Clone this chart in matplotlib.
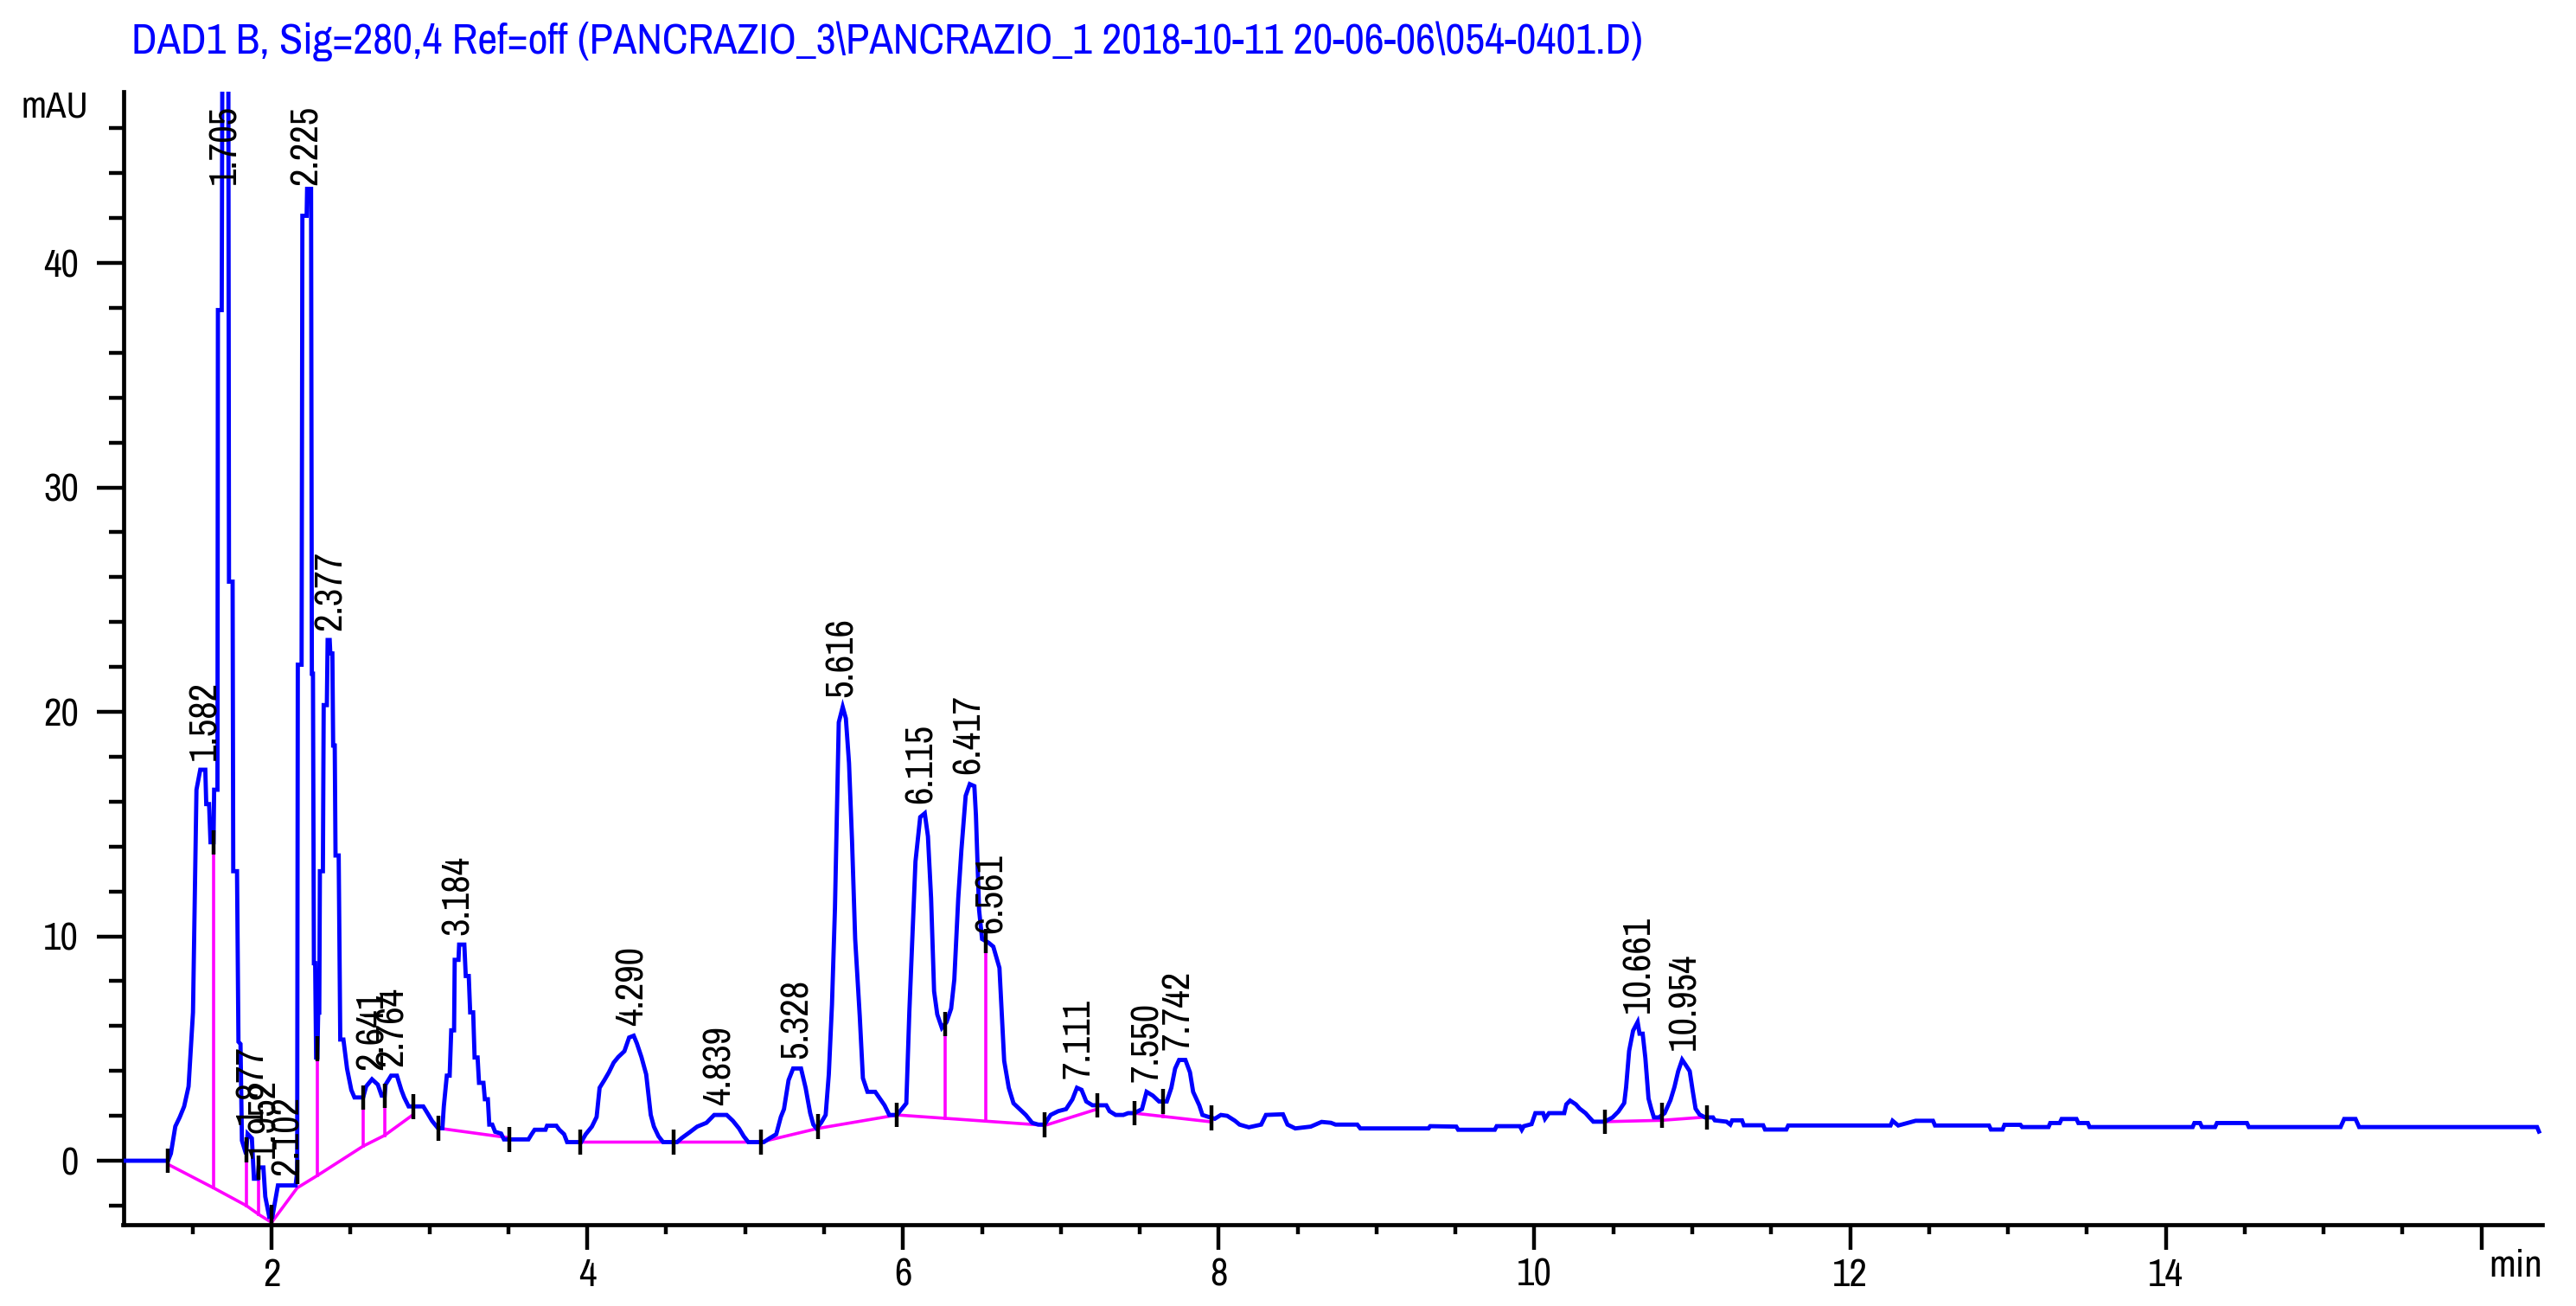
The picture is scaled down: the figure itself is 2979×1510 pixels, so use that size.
import numpy as np
import matplotlib
matplotlib.use("Agg")
import matplotlib.pyplot as plt
from matplotlib import font_manager as fm
from matplotlib.ticker import MultipleLocator, FixedLocator

# ---------------- data ----------------
title_text = r"DAD1 B, Sig=280,4 Ref=off (PANCRAZIO_3\PANCRAZIO_1 2018-10-11 20-06-06\054-0401.D)"
y_unit = "mAU"
x_unit = "min"

# detector signal (time in min, absorbance in mAU)
signal_points = [
    (1.06, 0.0), (1.344, 0.0), (1.362, 0.32), (1.390, 1.53), (1.418, 1.94), (1.446, 2.42),
    (1.474, 3.31), (1.502, 6.61), (1.524, 16.53), (1.548, 17.42), (1.580, 17.42), (1.586, 15.89),
    (1.604, 15.89), (1.613, 14.19), (1.632, 14.19), (1.636, 16.53), (1.657, 16.53), (1.660, 37.9),
    (1.684, 37.9), (1.688, 49.0), (1.726, 49.0), (1.730, 25.8), (1.753, 25.8), (1.757, 12.9),
    (1.781, 12.9), (1.790, 5.3), (1.803, 5.2), (1.812, 0.9), (1.838, 0.3), (1.848, 1.2),
    (1.875, 1.0), (1.888, -0.8), (1.912, -0.8), (1.918, -0.3), (1.948, -0.3), (1.960, -1.6),
    (1.985, -2.5), (2.005, -2.5), (2.040, -1.1), (2.152, -1.1), (2.162, -0.5), (2.166, 22.1),
    (2.190, 22.1), (2.195, 42.1), (2.222, 42.1), (2.225, 43.3), (2.250, 43.3), (2.255, 21.7),
    (2.262, 21.7), (2.268, 8.8), (2.276, 8.8), (2.282, 4.6), (2.290, 4.6), (2.295, 6.6),
    (2.302, 6.6), (2.306, 12.9), (2.325, 12.9), (2.330, 20.3), (2.350, 20.3), (2.355, 23.2),
    (2.368, 23.2), (2.372, 22.6), (2.385, 22.6), (2.390, 18.5), (2.400, 18.5), (2.405, 13.6),
    (2.425, 13.6), (2.435, 5.4), (2.455, 5.4), (2.478, 4.1), (2.505, 3.15), (2.525, 2.82),
    (2.580, 2.82), (2.599, 3.31), (2.636, 3.63), (2.673, 3.39), (2.697, 2.90), (2.716, 2.90),
    (2.722, 3.39), (2.757, 3.79), (2.794, 3.79), (2.822, 3.15), (2.840, 2.82), (2.868, 2.42),
    (2.961, 2.42), (2.989, 2.10), (3.017, 1.77), (3.054, 1.45), (3.082, 1.45), (3.091, 2.42),
    (3.110, 3.79), (3.128, 3.79), (3.138, 5.81), (3.156, 5.81), (3.160, 8.95), (3.184, 8.95),
    (3.188, 9.63), (3.221, 9.63), (3.230, 8.23), (3.249, 8.23), (3.258, 6.61), (3.277, 6.61),
    (3.286, 4.60), (3.305, 4.60), (3.314, 3.47), (3.342, 3.47), (3.351, 2.74), (3.370, 2.74),
    (3.379, 1.61), (3.398, 1.61), (3.416, 1.29), (3.454, 1.21), (3.472, 0.95), (3.627, 0.95),
    (3.647, 1.18), (3.666, 1.38), (3.735, 1.38), (3.745, 1.56), (3.804, 1.56), (3.823, 1.38),
    (3.853, 1.18), (3.872, 0.83), (3.961, 0.83), (3.990, 1.18), (4.029, 1.52), (4.059, 1.95),
    (4.078, 3.25), (4.108, 3.59), (4.137, 3.94), (4.167, 4.37), (4.196, 4.62), (4.235, 4.88),
    (4.265, 5.49), (4.294, 5.57), (4.314, 5.23), (4.343, 4.62), (4.373, 3.85), (4.402, 2.04),
    (4.422, 1.52), (4.451, 1.09), (4.480, 0.83), (4.569, 0.83), (4.598, 1.01), (4.647, 1.26),
    (4.696, 1.52), (4.755, 1.69), (4.804, 2.04), (4.883, 2.04), (4.922, 1.78), (4.961, 1.44),
    (4.991, 1.09), (5.020, 0.83), (5.118, 0.83), (5.157, 1.01), (5.197, 1.18), (5.226, 1.95),
    (5.246, 2.30), (5.275, 3.59), (5.304, 4.11), (5.354, 4.11), (5.383, 3.25), (5.412, 2.12),
    (5.432, 1.61), (5.452, 1.44), (5.481, 1.69), (5.510, 2.04), (5.530, 3.85), (5.550, 6.95),
    (5.569, 11.26), (5.593, 19.53), (5.618, 20.22), (5.638, 19.71), (5.658, 17.72), (5.677, 14.28),
    (5.697, 9.88), (5.726, 6.44), (5.746, 3.68), (5.775, 3.07), (5.824, 3.07), (5.883, 2.47),
    (5.913, 2.04), (5.962, 2.04), (6.021, 2.56), (6.040, 6.61), (6.060, 10.05), (6.079, 13.33),
    (6.109, 15.31), (6.138, 15.48), (6.158, 14.45), (6.178, 11.69), (6.197, 7.55), (6.217, 6.52),
    (6.246, 5.92), (6.276, 6.18), (6.305, 6.78), (6.325, 8.07), (6.350, 11.69), (6.370, 13.85),
    (6.397, 16.26), (6.423, 16.78), (6.452, 16.69), (6.462, 15.40), (6.482, 11.17), (6.501, 9.88),
    (6.543, 9.71), (6.572, 9.54), (6.611, 8.59), (6.641, 4.45), (6.670, 3.25), (6.700, 2.56),
    (6.739, 2.30), (6.778, 2.04), (6.818, 1.69), (6.857, 1.61), (6.896, 1.61), (6.935, 2.04),
    (6.984, 2.21), (7.033, 2.30), (7.073, 2.73), (7.102, 3.25), (7.131, 3.16), (7.161, 2.64),
    (7.200, 2.47), (7.288, 2.47), (7.308, 2.21), (7.347, 2.04), (7.396, 2.04), (7.426, 2.12),
    (7.465, 2.12), (7.514, 2.30), (7.543, 3.07), (7.583, 2.90), (7.622, 2.64), (7.671, 2.64),
    (7.700, 3.25), (7.724, 4.11), (7.749, 4.49), (7.789, 4.49), (7.818, 3.94), (7.838, 3.07),
    (7.877, 2.47), (7.897, 2.04), (7.936, 1.95), (7.975, 1.87), (8.014, 2.04), (8.054, 2.00),
    (8.103, 1.78), (8.132, 1.61), (8.191, 1.49), (8.269, 1.61), (8.299, 2.04), (8.407, 2.07),
    (8.436, 1.61), (8.485, 1.44), (8.583, 1.52), (8.652, 1.73), (8.711, 1.69), (8.740, 1.61),
    (8.878, 1.61), (8.897, 1.44), (9.329, 1.44), (9.340, 1.54), (9.505, 1.52), (9.517, 1.38),
    (9.749, 1.38), (9.761, 1.54), (9.908, 1.54), (9.920, 1.38), (9.933, 1.54), (9.982, 1.63),
    (10.006, 2.12), (10.055, 2.12), (10.067, 1.87), (10.092, 2.12), (10.189, 2.12), (10.202, 2.51),
    (10.226, 2.68), (10.263, 2.51), (10.287, 2.32), (10.324, 2.12), (10.348, 1.93), (10.373, 1.74),
    (10.446, 1.74), (10.495, 1.93), (10.532, 2.19), (10.569, 2.57), (10.581, 3.28), (10.600, 4.89),
    (10.625, 5.79), (10.654, 6.18), (10.666, 5.66), (10.686, 5.66), (10.703, 4.57), (10.723, 2.77),
    (10.740, 2.32), (10.757, 1.93), (10.789, 1.93), (10.825, 2.12), (10.862, 2.70), (10.887, 3.28),
    (10.911, 3.99), (10.936, 4.50), (10.960, 4.25), (10.984, 3.99), (11.002, 3.15), (11.021, 2.32),
    (11.046, 2.06), (11.082, 1.93), (11.131, 1.93), (11.143, 1.80), (11.217, 1.74), (11.241, 1.61),
    (11.253, 1.80), (11.315, 1.80), (11.327, 1.58), (11.449, 1.58), (11.461, 1.39), (11.596, 1.39),
    (11.608, 1.57), (12.256, 1.57), (12.269, 1.78), (12.305, 1.57), (12.415, 1.78), (12.525, 1.78),
    (12.538, 1.57), (12.880, 1.57), (12.892, 1.39), (12.966, 1.39), (12.978, 1.60), (13.079, 1.60),
    (13.090, 1.50), (13.257, 1.50), (13.268, 1.68), (13.328, 1.68), (13.340, 1.86), (13.434, 1.86),
    (13.446, 1.68), (13.506, 1.68), (13.517, 1.50), (14.170, 1.50), (14.181, 1.68), (14.217, 1.68),
    (14.229, 1.50), (14.312, 1.50), (14.324, 1.68), (14.514, 1.68), (14.526, 1.50), (15.107, 1.50),
    (15.130, 1.86), (15.202, 1.86), (15.225, 1.50), (16.352, 1.50), (16.364, 1.30),
]

# integration baselines (magenta)
baseline_segments = [
    [(1.344, -0.16), (1.632, -1.21), (1.840, -2.0), (1.920, -2.4), (2.0, -2.75)],
    [(2.0, -2.75), (2.162, -1.21), (2.292, -0.65), (2.580, 0.65), (2.716, 1.13), (2.896, 2.05)],
    [(3.058, 1.45), (3.506, 1.02)],
    [(3.955, 0.83), (5.098, 0.83), (5.461, 1.44), (5.962, 2.04)],
    [(5.962, 2.04), (6.896, 1.58)],
    [(6.916, 1.61), (7.230, 2.30)],
    [(7.465, 2.12), (7.956, 1.73)],
    [(10.446, 1.74), (10.806, 1.80), (11.094, 1.95)],
]

# drop lines between unresolved peaks
drop_times = [1.632, 1.840, 1.920, 2.291, 2.580, 2.716, 6.266, 6.523, 7.645]

# integration start/stop events (black ticks)
event_times = [1.344, 1.632, 1.840, 1.920, 2.0, 2.162, 2.291, 2.580, 2.716, 2.896, 3.058,
               3.506, 3.955, 4.549, 5.098, 5.461, 5.962, 6.266, 6.523, 6.896, 7.230, 7.465,
               7.645, 7.956, 10.446, 10.806, 11.094]

# retention time labels
peak_labels = ["1.582", "1.705", "1.877", "1.952", "2.102", "2.225", "2.377", "2.641", "2.764",
               "3.184", "4.290", "4.839", "5.328", "5.616", "6.115", "6.417", "6.561", "7.111",
               "7.550", "7.742", "10.661", "10.954"]

x_major_ticks = [2, 4, 6, 8, 10, 12, 14, 16]
x_tick_labels = ["2", "4", "6", "8", "10", "12", "14", ""]
y_major_ticks = [0, 10, 20, 30, 40]
y_tick_labels = ["0", "10", "20", "30", "40"]

# ---------------- font choice: prefer a narrow sans ----------------
def find_narrow_font():
    best, best_score = None, 0
    for f in fm.fontManager.ttflist:
        n = f.name.lower()
        fn = f.fname.lower()
        if f.style != "normal":
            continue
        w = f.weight
        if isinstance(w, str):
            w = fm.weight_dict.get(w, 400)
        if not (350 <= int(w) <= 450):
            continue
        if "mono" in n or "cjk" in n or ("serif" in n and "sans" not in n):
            continue
        score = 0
        if "narrow" in n or "narrow" in fn:
            score = 3
        elif f.stretch == "condensed" or ("condensed" in n and "semi" not in n and "extra" not in n):
            score = 2
        if score > best_score:
            best, best_score = f.fname, score
    return best


narrow_path = find_narrow_font()


def fp(size):
    if narrow_path:
        return fm.FontProperties(fname=narrow_path, size=size)
    return fm.FontProperties(family=["Liberation Sans", "DejaVu Sans"], size=size)


# ---------------- drawing ----------------
BLUE = "#0000FF"
MAGENTA = "#FF00FF"

W, H = 2979, 1510
fig = plt.figure(figsize=(W / 100, H / 100), dpi=100)
renderer = fig.canvas.get_renderer()


def fitted_size(text, target_px, base=30.0):
    t = fig.text(0, 0, text, fontproperties=fp(base))
    w = t.get_window_extent(renderer).width
    t.remove()
    return base * target_px / w


label_size = fitted_size("5.616", 92)
if not narrow_path:
    label_size = (label_size + 31) / 2.0
title_size = fitted_size(title_text, 1744)

ax = fig.add_axes([142.5 / W, 94 / H, (2940 - 142.5) / W, (1416 - 106) / H])
x_lo, x_hi = 1.06, 16.385
y_lo, y_hi = -2.85, 47.63
ax.set_xlim(x_lo, x_hi)
ax.set_ylim(y_lo, y_hi)

sig_t = np.array([p[0] for p in signal_points])
sig_v = np.array([p[1] for p in signal_points])

ax.plot(sig_t, sig_v, color=BLUE, lw=3.5, solid_joinstyle="miter", zorder=3)

for seg in baseline_segments:
    ax.plot([p[0] for p in seg], [p[1] for p in seg], color=MAGENTA, lw=2.6, zorder=2)


def baseline_at(t):
    for seg in baseline_segments:
        st = [p[0] for p in seg]
        sv = [p[1] for p in seg]
        if st[0] - 1e-9 <= t <= st[-1] + 1e-9:
            return float(np.interp(t, st, sv))
    return float(np.interp(t, sig_t, sig_v))


for td in drop_times:
    top = float(np.interp(td, sig_t, sig_v))
    ax.plot([td, td], [baseline_at(td), top], color=MAGENTA, lw=2.6, zorder=2)

for te in event_times:
    yc = float(np.interp(te, sig_t, sig_v))
    ax.plot([te, te], [yc - 0.55, yc + 0.55], color="black", lw=3.2, zorder=4,
            solid_capstyle="butt")

for lbl in peak_labels:
    rt = float(lbl)
    win = (sig_t >= rt - 0.03) & (sig_t <= rt + 0.03)
    apex = float(np.interp(rt, sig_t, sig_v))
    if win.any():
        apex = max(apex, float(sig_v[win].max()))
    if apex > y_hi - 5:
        ax.annotate(lbl, xy=(rt, y_hi), xytext=(0, -11), textcoords="offset points",
                    rotation=90, ha="center", va="top", fontproperties=fp(label_size),
                    color="black", zorder=5, annotation_clip=False)
    else:
        ax.annotate(lbl, xy=(rt, apex), xytext=(0, 8), textcoords="offset points",
                    rotation=90, ha="center", va="bottom", fontproperties=fp(label_size),
                    color="black", zorder=5)

# axes styling
for side in ("top", "right"):
    ax.spines[side].set_visible(False)
for side in ("left", "bottom"):
    ax.spines[side].set_linewidth(3.4)
    ax.spines[side].set_color("black")

ax.xaxis.set_major_locator(FixedLocator(x_major_ticks))
ax.set_xticklabels(x_tick_labels)
ax.xaxis.set_minor_locator(MultipleLocator(0.5))
ax.yaxis.set_major_locator(FixedLocator(y_major_ticks))
ax.set_yticklabels(y_tick_labels)
ax.yaxis.set_minor_locator(MultipleLocator(2))

ax.tick_params(axis="x", which="major", length=21, width=3.2, direction="out", pad=7,
               colors="black")
ax.tick_params(axis="x", which="minor", length=8, width=3.2, direction="out")
ax.tick_params(axis="y", which="major", length=22, width=3.2, direction="out", pad=15,
               colors="black")
ax.tick_params(axis="y", which="minor", length=12, width=3.2, direction="out")
for t in ax.get_xticklabels() + ax.get_yticklabels():
    t.set_fontproperties(fp(label_size))

fig.text(102 / W, 1 - 123 / H, y_unit, ha="right", va="center",
         fontproperties=fp(label_size * 0.95), color="black")
fig.text(2940 / W, 1 - 1476 / H, x_unit, ha="right", va="baseline",
         fontproperties=fp(label_size), color="black")
fig.text(152 / W, 1 - 62 / H, title_text, ha="left", va="baseline",
         fontproperties=fp(title_size), color=BLUE)

fig.savefig("out.png", dpi=100, facecolor="white")
